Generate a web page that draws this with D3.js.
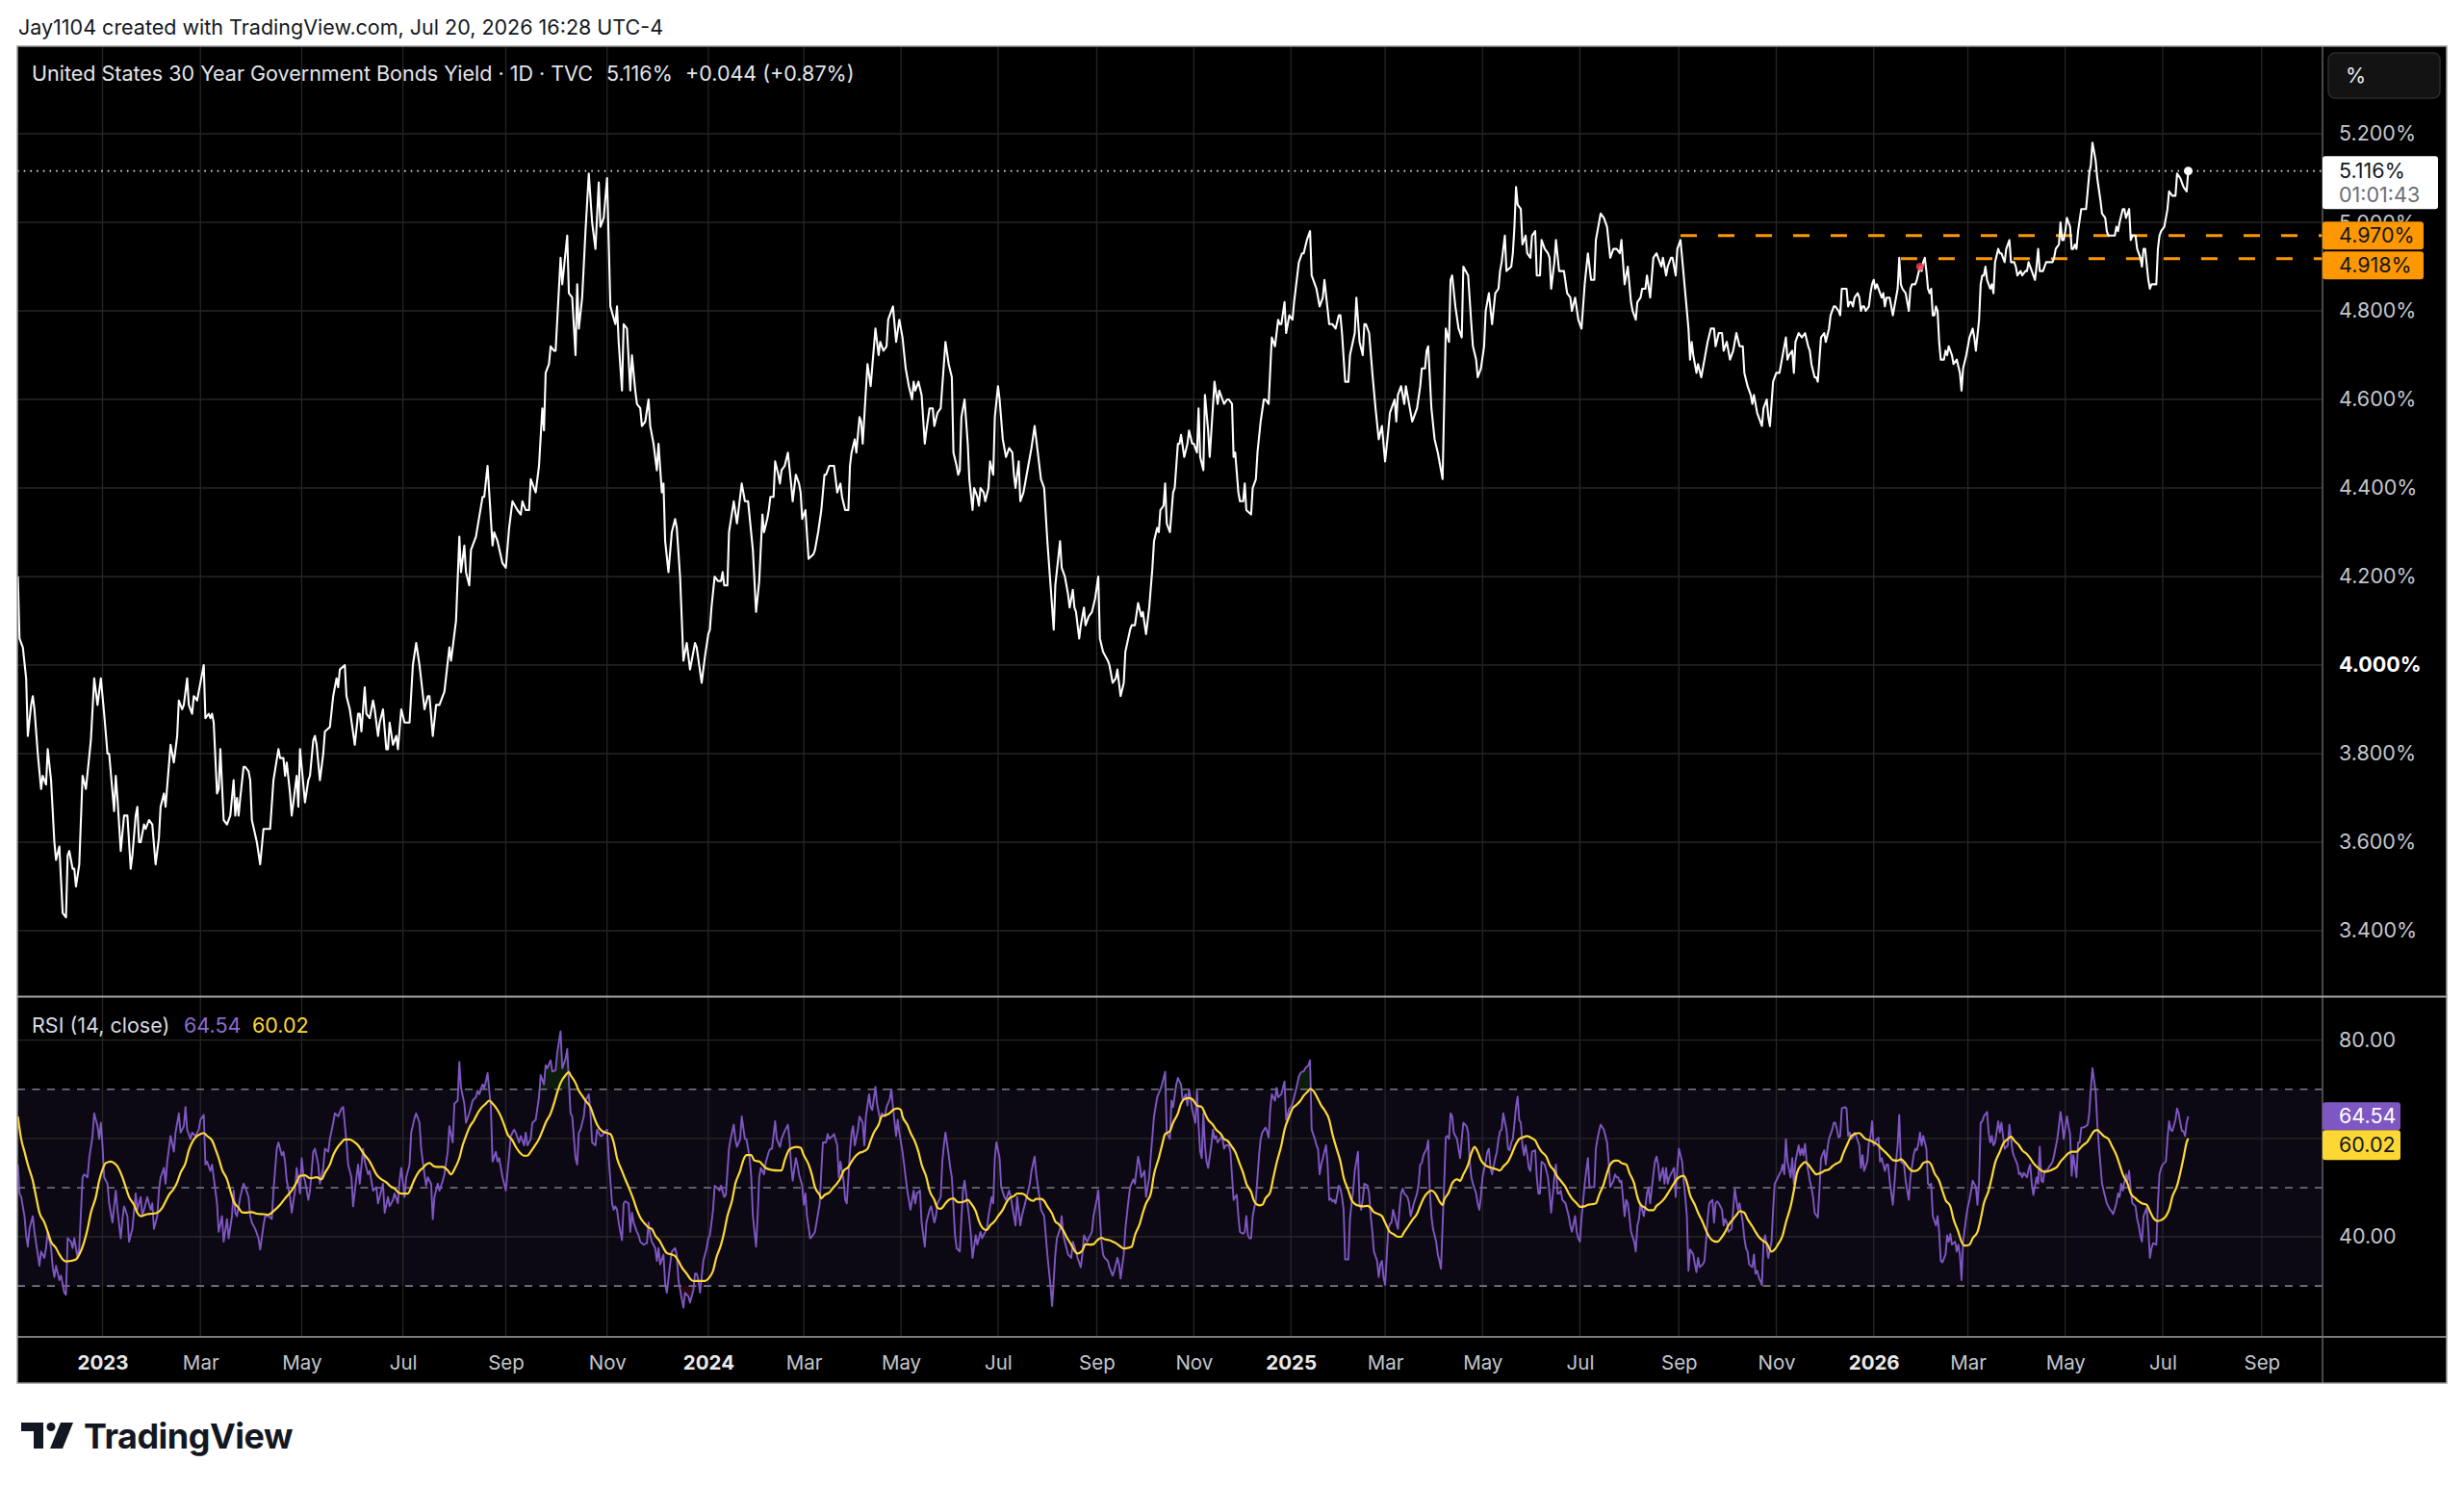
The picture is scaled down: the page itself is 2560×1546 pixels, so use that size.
<!DOCTYPE html>
<html>
<head>
<meta charset="utf-8">
<script src="https://cdn.jsdelivr.net/npm/d3@7"></script>
<style>
  html, body { margin: 0; padding: 0; background: #ffffff; }
  svg        { display: block; font-family: Inter, 'Noto Sans', sans-serif; }
</style>
</head>
<body>
<svg id="chart" width="2560" height="1546"></svg>
<script>

// Values. Days are counted from 2023-01-01.
const yearStarts   = [ 2023, 2024, 2025, 2026 ];
const priceTicks   = [ 3.4, 3.6, 3.8, 4.0, 4.2, 4.4, 4.6, 4.8, 5.0, 5.2 ];
const rsiGrid      = [ 80, 60, 40 ];
const rsiBands     = [ 70, 50, 30 ];
const rsiLabels    = [ 80, 40 ];
const alertLevels  = [ 4.970, 4.918 ];
const alertStarts  = [ 975, 1113 ];
const alertMarker  = [ 1125, 4.90 ];
const lastChange   = '+0.044 (+0.87%)';
const countdown    = '01:01:43';

// US 30Y yield, daily close (%).
const priceSeries = [
  [-51,4.20],[-50,4.06],[-48,4.04],[-46,3.97],[-45,3.84],[-43,3.91],[-42,3.93],[-41,3.90],[-39,3.80],[-37,3.72],
  [-36,3.75],[-34,3.73],[-33,3.81],[-31,3.74],[-29,3.60],[-28,3.56],[-26,3.59],[-24,3.44],[-22,3.43],[-21,3.57],
  [-20,3.58],[-18,3.54],[-17,3.54],[-16,3.50],[-14,3.55],[-12,3.75],[-10,3.72],[-7,3.83],[-5,3.97],[-3,3.91],
  [-1,3.97],[1,3.89],[3,3.80],[4,3.80],[7,3.67],[8,3.75],[9,3.70],[11,3.58],[13,3.66],[15,3.66],
  [17,3.54],[18,3.57],[20,3.66],[21,3.68],[22,3.60],[23,3.60],[25,3.64],[26,3.63],[28,3.65],[30,3.64],
  [32,3.55],[34,3.61],[35,3.68],[37,3.71],[38,3.68],[41,3.82],[43,3.78],[45,3.84],[46,3.92],[48,3.90],
  [49,3.91],[51,3.97],[52,3.91],[54,3.89],[55,3.93],[57,3.92],[59,3.96],[61,4.00],[62,3.88],[64,3.89],
  [65,3.88],[66,3.89],[67,3.87],[69,3.71],[70,3.72],[71,3.81],[73,3.65],[75,3.64],[77,3.66],[79,3.74],
  [80,3.66],[81,3.70],[82,3.66],[83,3.70],[85,3.77],[86,3.77],[88,3.76],[89,3.74],[90,3.65],[93,3.60],
  [95,3.55],[97,3.63],[99,3.63],[101,3.63],[103,3.74],[106,3.81],[107,3.79],[109,3.79],[110,3.75],[111,3.78],
  [113,3.71],[114,3.66],[116,3.72],[117,3.75],[118,3.68],[119,3.81],[122,3.69],[124,3.74],[125,3.75],[127,3.83],
  [128,3.84],[129,3.82],[131,3.74],[133,3.80],[134,3.85],[137,3.86],[139,3.93],[141,3.97],[142,3.95],[143,3.99],
  [146,4.00],[147,3.93],[149,3.90],[152,3.82],[154,3.89],[155,3.89],[156,3.85],[158,3.95],[159,3.89],[161,3.88],
  [163,3.92],[164,3.90],[166,3.84],[167,3.87],[169,3.90],[171,3.81],[172,3.81],[173,3.87],[175,3.82],[177,3.84],
  [178,3.81],[180,3.90],[182,3.87],[185,3.87],[187,4.00],[189,4.05],[191,4.00],[194,3.90],[196,3.93],[197,3.93],
  [199,3.84],[201,3.91],[203,3.91],[206,3.94],[209,4.04],[210,4.01],[213,4.10],[215,4.29],[216,4.21],[218,4.27],
  [219,4.21],[221,4.18],[222,4.26],[225,4.29],[229,4.38],[230,4.38],[232,4.45],[235,4.27],[236,4.30],[238,4.28],
  [241,4.23],[243,4.22],[245,4.31],[247,4.37],[250,4.35],[252,4.34],[253,4.37],[255,4.35],[257,4.35],[258,4.42],
  [261,4.39],[263,4.45],[265,4.58],[266,4.53],[267,4.66],[269,4.68],[270,4.72],[272,4.71],[273,4.71],[276,4.92],
  [277,4.86],[280,4.97],[281,4.84],[283,4.83],[285,4.70],[286,4.86],[287,4.76],[289,4.83],[291,4.98],[293,5.11],
  [295,5.00],[297,4.94],[299,5.09],[300,4.99],[302,5.01],[304,5.10],[306,4.81],[309,4.77],[310,4.81],[311,4.73],
  [313,4.62],[314,4.77],[316,4.76],[318,4.62],[319,4.70],[321,4.62],[322,4.59],[324,4.58],[325,4.54],[327,4.55],
  [329,4.60],[330,4.54],[332,4.50],[334,4.44],[335,4.50],[337,4.39],[338,4.41],[339,4.28],[341,4.21],[343,4.30],
  [345,4.33],[346,4.31],[348,4.20],[350,4.01],[352,4.05],[354,3.99],[357,4.05],[358,4.04],[361,3.96],[363,4.02],
  [365,4.07],[366,4.08],[367,4.13],[369,4.20],[371,4.19],[373,4.19],[374,4.21],[375,4.18],[377,4.18],[378,4.30],
  [381,4.37],[383,4.32],[384,4.35],[386,4.41],[388,4.37],[390,4.37],[393,4.26],[395,4.12],[397,4.19],[399,4.34],
  [400,4.30],[402,4.33],[403,4.35],[404,4.38],[406,4.38],[407,4.46],[409,4.43],[410,4.41],[411,4.44],[413,4.45],
  [415,4.48],[417,4.41],[418,4.37],[420,4.43],[422,4.41],[423,4.39],[424,4.33],[426,4.35],[428,4.24],[431,4.25],
  [432,4.26],[434,4.30],[436,4.35],[438,4.43],[439,4.43],[441,4.45],[442,4.45],[444,4.45],[446,4.39],[448,4.41],
  [449,4.38],[451,4.35],[453,4.35],[454,4.45],[455,4.48],[457,4.51],[458,4.48],[460,4.56],[461,4.55],[462,4.50],
  [463,4.56],[465,4.68],[467,4.63],[470,4.76],[472,4.70],[473,4.73],[475,4.71],[477,4.72],[478,4.78],[481,4.81],
  [483,4.73],[485,4.78],[487,4.74],[489,4.67],[491,4.63],[493,4.60],[494,4.64],[495,4.62],[497,4.64],[499,4.61],
  [501,4.50],[502,4.53],[504,4.58],[506,4.58],[507,4.54],[509,4.57],[511,4.58],[513,4.68],[514,4.73],[516,4.68],
  [518,4.65],[519,4.48],[521,4.45],[522,4.43],[523,4.44],[524,4.56],[526,4.60],[528,4.50],[529,4.42],[531,4.35],
  [532,4.40],[534,4.38],[535,4.36],[536,4.40],[538,4.39],[539,4.37],[541,4.40],[542,4.46],[544,4.43],[545,4.56],
  [547,4.63],[548,4.60],[550,4.51],[552,4.47],[554,4.49],[556,4.48],[557,4.43],[558,4.40],[560,4.46],[561,4.37],
  [563,4.39],[566,4.45],[568,4.49],[570,4.54],[572,4.48],[574,4.42],[576,4.40],[578,4.28],[580,4.18],[582,4.08],
  [583,4.18],[586,4.28],[587,4.22],[589,4.20],[591,4.16],[592,4.13],[594,4.17],[595,4.13],[596,4.12],[598,4.06],
  [599,4.09],[601,4.13],[602,4.09],[604,4.11],[606,4.12],[608,4.15],[610,4.20],[611,4.06],[613,4.03],[616,4.01],
  [617,4.00],[619,3.96],[621,3.97],[622,3.99],[624,3.93],[626,3.96],[627,4.03],[630,4.08],[631,4.09],[633,4.09],
  [635,4.14],[637,4.11],[638,4.12],[640,4.07],[642,4.13],[644,4.22],[645,4.28],[647,4.31],[648,4.30],[649,4.35],
  [651,4.36],[652,4.41],[653,4.32],[655,4.30],[657,4.39],[658,4.40],[660,4.50],[661,4.50],[662,4.52],[664,4.47],
  [666,4.50],[667,4.53],[669,4.50],[670,4.50],[672,4.48],[673,4.58],[674,4.47],[676,4.44],[677,4.61],[679,4.53],
  [680,4.47],[683,4.64],[685,4.59],[686,4.62],[688,4.60],[689,4.59],[691,4.60],[692,4.60],[694,4.59],[695,4.47],
  [696,4.48],[698,4.39],[699,4.37],[701,4.37],[702,4.41],[703,4.35],[706,4.34],[707,4.40],[709,4.42],[710,4.48],
  [712,4.55],[714,4.60],[715,4.60],[717,4.59],[719,4.74],[721,4.72],[723,4.78],[724,4.77],[725,4.77],[727,4.82],
  [728,4.75],[730,4.79],[732,4.78],[733,4.82],[734,4.85],[736,4.91],[738,4.93],[739,4.93],[741,4.96],[743,4.98],
  [744,4.88],[746,4.86],[747,4.85],[749,4.81],[751,4.83],[752,4.87],[755,4.77],[757,4.77],[759,4.76],[761,4.79],
  [762,4.79],[763,4.75],[765,4.64],[767,4.64],[768,4.70],[771,4.75],[772,4.83],[774,4.73],[776,4.70],[777,4.77],
  [778,4.77],[780,4.75],[782,4.66],[784,4.58],[786,4.51],[788,4.54],[790,4.46],[792,4.53],[793,4.57],[795,4.59],
  [796,4.60],[797,4.55],[798,4.61],[800,4.63],[802,4.59],[803,4.63],[805,4.59],[807,4.55],[808,4.56],[810,4.58],
  [812,4.63],[813,4.67],[815,4.67],[816,4.71],[817,4.72],[819,4.58],[821,4.51],[823,4.48],[826,4.42],[828,4.76],
  [830,4.73],[831,4.87],[832,4.88],[834,4.81],[836,4.76],[838,4.74],[839,4.90],[842,4.88],[844,4.77],[845,4.72],
  [847,4.69],[848,4.65],[850,4.67],[852,4.72],[853,4.80],[855,4.84],[857,4.77],[859,4.84],[861,4.85],[862,4.89],
  [863,4.91],[865,4.97],[866,4.89],[869,4.90],[870,4.93],[871,4.99],[872,5.08],[873,5.04],[875,5.03],[876,4.95],
  [878,4.97],[879,4.93],[881,4.92],[882,4.97],[884,4.98],[885,4.88],[887,4.88],[888,4.96],[890,4.94],[892,4.93],
  [893,4.92],[894,4.85],[896,4.91],[897,4.96],[899,4.89],[900,4.89],[902,4.89],[904,4.84],[906,4.83],[907,4.80],
  [909,4.83],[911,4.78],[913,4.76],[915,4.86],[917,4.93],[919,4.87],[921,4.87],[922,4.96],[925,5.02],[927,5.01],
  [929,4.99],[931,4.92],[933,4.94],[935,4.94],[937,4.93],[938,4.96],[940,4.86],[942,4.90],[944,4.82],[945,4.80],
  [947,4.78],[948,4.82],[950,4.83],[951,4.85],[953,4.85],[954,4.88],[956,4.83],[958,4.92],[960,4.93],[961,4.92],
  [963,4.90],[964,4.92],[966,4.88],[967,4.90],[969,4.92],[970,4.92],[972,4.88],[973,4.94],[975,4.96],[977,4.88],
  [980,4.76],[981,4.69],[982,4.73],[983,4.70],[985,4.66],[986,4.68],[988,4.65],[990,4.69],[992,4.73],[994,4.76],
  [996,4.76],[997,4.72],[999,4.75],[1001,4.75],[1002,4.71],[1004,4.73],[1006,4.69],[1008,4.71],[1010,4.75],[1012,4.72],
  [1014,4.72],[1015,4.66],[1017,4.63],[1019,4.61],[1020,4.59],[1021,4.61],[1023,4.57],[1026,4.54],[1027,4.58],[1029,4.60],
  [1030,4.56],[1031,4.54],[1033,4.64],[1035,4.66],[1037,4.66],[1038,4.68],[1041,4.74],[1042,4.69],[1043,4.70],[1045,4.71],
  [1046,4.66],[1047,4.73],[1049,4.75],[1051,4.74],[1053,4.75],[1055,4.72],[1056,4.71],[1057,4.68],[1059,4.65],[1060,4.65],
  [1061,4.64],[1062,4.69],[1063,4.74],[1065,4.75],[1066,4.73],[1068,4.76],[1069,4.79],[1071,4.81],[1072,4.81],[1074,4.80],
  [1075,4.79],[1076,4.85],[1078,4.85],[1079,4.85],[1080,4.81],[1081,4.82],[1082,4.82],[1083,4.81],[1084,4.83],[1086,4.84],
  [1087,4.83],[1088,4.80],[1089,4.81],[1090,4.81],[1091,4.80],[1093,4.81],[1094,4.84],[1095,4.86],[1096,4.87],[1097,4.85],
  [1098,4.86],[1100,4.84],[1101,4.83],[1102,4.84],[1103,4.81],[1104,4.83],[1105,4.83],[1106,4.83],[1108,4.79],[1109,4.81],
  [1111,4.85],[1112,4.92],[1113,4.86],[1114,4.85],[1116,4.84],[1117,4.82],[1118,4.80],[1119,4.85],[1120,4.86],[1122,4.86],
  [1123,4.87],[1125,4.90],[1126,4.89],[1127,4.91],[1128,4.92],[1129,4.89],[1130,4.85],[1131,4.84],[1132,4.85],[1133,4.79],
  [1134,4.79],[1135,4.81],[1136,4.80],[1137,4.73],[1138,4.69],[1140,4.69],[1141,4.71],[1142,4.70],[1143,4.72],[1145,4.70],
  [1146,4.68],[1148,4.69],[1150,4.66],[1151,4.62],[1152,4.67],[1154,4.70],[1155,4.72],[1156,4.74],[1158,4.76],[1159,4.74],
  [1160,4.71],[1162,4.78],[1163,4.86],[1164,4.88],[1165,4.88],[1166,4.90],[1167,4.87],[1169,4.85],[1170,4.86],[1171,4.84],
  [1172,4.91],[1174,4.94],[1175,4.93],[1176,4.93],[1177,4.92],[1178,4.91],[1179,4.94],[1181,4.96],[1182,4.91],[1184,4.91],
  [1185,4.90],[1186,4.88],[1188,4.89],[1189,4.88],[1191,4.89],[1192,4.89],[1193,4.91],[1195,4.89],[1196,4.88],[1197,4.87],
  [1198,4.90],[1199,4.94],[1200,4.89],[1202,4.89],[1203,4.90],[1204,4.91],[1206,4.91],[1208,4.91],[1209,4.92],[1210,4.94],
  [1212,4.95],[1213,5.00],[1214,4.96],[1215,4.96],[1216,4.98],[1217,5.01],[1218,5.00],[1219,4.99],[1220,4.94],[1221,4.94],
  [1222,4.95],[1223,4.94],[1224,4.98],[1226,5.03],[1227,5.03],[1229,5.03],[1230,5.07],[1231,5.11],[1232,5.13],[1233,5.18],
  [1235,5.14],[1236,5.10],[1238,5.05],[1239,5.02],[1241,5.01],[1242,4.98],[1243,4.97],[1245,4.97],[1246,4.97],[1247,4.97],
  [1248,4.99],[1249,4.98],[1250,5.00],[1252,5.03],[1253,5.03],[1254,5.01],[1255,5.02],[1256,5.03],[1257,4.96],[1258,4.97],
  [1260,4.97],[1261,4.94],[1263,4.92],[1264,4.90],[1265,4.94],[1266,4.94],[1268,4.87],[1269,4.85],[1270,4.86],[1272,4.86],
  [1273,4.86],[1274,4.94],[1275,4.97],[1276,4.98],[1278,4.99],[1280,5.03],[1281,5.07],[1283,5.06],[1285,5.06],[1286,5.11],
  [1288,5.10],[1289,5.09],[1290,5.08],[1292,5.07],[1293,5.116]
];

// RSI (14, close).
const rsiSeries = [
  [-51,54.7],[-50,48.8],[-49,48.1],[-47,44.2],[-46,40.3],[-45,38.0],[-44,41.6],[-42,44.2],[-41,41.0],[-39,36.4],
  [-38,34.1],[-37,37.0],[-35,35.7],[-34,37.7],[-33,41.0],[-31,37.7],[-30,33.8],[-29,31.8],[-28,34.1],[-26,31.2],
  [-25,32.1],[-23,28.6],[-22,28.2],[-21,39.7],[-19,39.0],[-18,37.7],[-17,39.7],[-15,35.7],[-14,37.7],[-12,52.1],
  [-11,52.7],[-9,52.1],[-8,56.0],[-6,60.5],[-5,65.1],[-3,62.5],[-2,59.9],[-1,63.2],[0,58.6],[1,52.1],
  [3,50.8],[4,46.8],[6,42.9],[8,49.4],[9,45.5],[11,39.7],[12,43.6],[13,46.2],[15,44.2],[16,39.0],
  [18,41.6],[20,48.8],[21,45.5],[23,48.1],[24,44.2],[26,46.8],[27,48.1],[29,45.5],[30,46.8],[31,41.6],
  [33,44.2],[34,49.4],[35,52.1],[37,54.0],[38,50.8],[39,55.3],[41,60.5],[43,57.3],[44,61.2],[46,65.1],
  [47,61.2],[49,62.5],[50,66.4],[51,61.8],[53,59.9],[54,61.2],[56,60.5],[58,61.8],[59,63.8],[61,64.8],
  [62,54.7],[63,55.3],[65,53.4],[66,54.7],[67,52.1],[69,46.8],[70,41.0],[72,44.2],[73,39.0],[75,43.6],
  [76,39.7],[78,44.2],[79,49.4],[80,44.9],[81,44.2],[83,48.1],[85,50.8],[86,50.1],[88,48.1],[89,44.2],
  [90,42.9],[92,41.6],[94,39.7],[95,37.4],[97,42.3],[98,44.2],[100,44.2],[102,43.6],[103,49.4],[105,57.9],
  [106,59.2],[108,56.6],[109,57.3],[110,55.3],[111,51.4],[113,48.1],[114,44.9],[116,49.4],[117,54.0],[119,48.8],
  [120,56.0],[121,52.7],[122,51.4],[124,47.5],[125,49.4],[127,57.3],[128,57.9],[130,54.7],[131,50.8],[133,54.0],
  [134,57.9],[136,57.3],[137,59.9],[139,63.2],[140,65.1],[142,64.5],[144,66.1],[145,66.4],[147,59.2],[148,54.7],
  [150,52.1],[151,46.2],[153,52.1],[154,54.7],[155,50.8],[157,57.9],[158,55.3],[160,52.7],[161,53.4],[163,49.4],
  [165,50.1],[166,46.8],[167,48.1],[169,50.8],[170,44.9],[172,48.1],[173,46.2],[175,47.5],[176,48.8],[178,46.8],
  [179,51.4],[180,54.0],[182,48.1],[183,52.1],[185,54.7],[186,61.2],[188,64.1],[189,65.1],[191,63.2],[192,57.9],
  [194,52.7],[195,50.4],[196,52.1],[198,50.8],[199,43.6],[200,48.1],[202,50.8],[203,49.4],[205,51.4],[206,52.7],
  [208,57.3],[209,62.5],[211,59.2],[212,67.1],[214,67.7],[215,75.6],[216,70.3],[218,67.1],[219,63.2],[221,65.1],
  [222,66.4],[223,67.7],[225,68.4],[226,69.7],[227,69.0],[229,71.0],[230,70.3],[231,71.6],[232,73.3],[234,66.4],
  [235,55.3],[237,57.3],[238,55.3],[239,56.0],[241,52.1],[242,50.8],[243,49.4],[245,56.6],[246,60.5],[248,61.8],
  [249,61.2],[251,59.2],[252,60.5],[254,58.6],[255,61.2],[256,58.6],[258,59.9],[259,63.2],[261,63.8],[263,68.4],
  [264,72.9],[266,71.0],[267,74.9],[268,74.3],[270,75.9],[271,73.6],[273,73.9],[274,77.5],[276,81.8],[277,74.3],
  [279,76.2],[280,78.2],[282,65.1],[283,64.5],[285,56.0],[286,54.7],[287,61.2],[288,61.8],[290,64.5],[291,67.7],
  [293,69.0],[294,65.1],[295,59.2],[297,58.6],[298,61.8],[300,60.5],[301,60.5],[302,61.2],[304,61.8],[305,56.0],
  [307,46.8],[308,45.5],[309,46.2],[310,45.5],[311,42.9],[313,39.3],[314,46.8],[315,47.2],[317,46.8],[318,41.0],
  [319,44.9],[320,42.9],[322,41.0],[323,40.3],[324,39.0],[326,38.4],[328,38.7],[329,42.9],[330,40.3],[331,39.0],
  [333,37.7],[334,35.1],[335,37.7],[336,34.4],[338,36.4],[339,30.5],[340,28.6],[342,34.4],[343,37.0],[345,37.7],
  [346,36.4],[347,31.2],[349,27.3],[350,25.6],[351,28.6],[353,27.9],[354,26.6],[356,29.2],[357,32.5],[358,32.5],
  [359,31.2],[360,28.6],[362,35.1],[364,37.7],[365,39.7],[366,40.3],[368,45.5],[369,50.4],[371,49.8],[372,49.4],
  [373,50.4],[375,48.1],[376,48.5],[378,57.9],[379,59.9],[381,62.8],[382,59.9],[383,58.3],[385,59.9],[386,64.5],
  [388,59.9],[389,59.9],[391,56.0],[392,52.1],[393,44.2],[395,38.0],[396,44.2],[397,52.1],[398,54.0],[400,52.7],
  [401,55.0],[403,57.3],[404,57.9],[405,57.9],[407,63.5],[408,59.9],[410,58.3],[411,59.9],[413,61.5],[415,62.8],
  [416,59.9],[417,54.7],[418,51.4],[420,56.0],[421,54.7],[422,52.7],[424,50.4],[425,46.5],[426,48.8],[427,44.2],
  [429,39.7],[430,40.0],[432,41.0],[433,42.9],[435,46.8],[436,53.4],[437,59.2],[439,59.2],[440,60.9],[441,59.9],
  [443,60.5],[444,60.9],[446,58.6],[447,52.1],[448,55.3],[450,51.4],[451,47.5],[452,46.8],[454,57.3],[455,61.2],
  [456,62.5],[457,58.6],[459,61.8],[460,64.5],[462,63.2],[463,58.6],[464,64.5],[466,69.0],[467,66.4],[468,65.8],
  [470,70.5],[471,67.1],[473,63.8],[474,65.1],[476,64.5],[477,66.4],[479,68.0],[480,70.0],[481,66.4],[483,60.5],
  [484,63.8],[485,61.2],[487,57.3],[488,54.7],[490,49.4],[491,47.5],[492,45.5],[494,49.4],[495,46.8],[496,48.8],
  [498,49.4],[499,42.9],[501,38.0],[502,42.9],[504,45.5],[505,46.2],[507,42.9],[508,44.2],[509,46.8],[511,48.1],
  [512,55.3],[513,58.6],[514,61.2],[516,56.6],[517,54.0],[518,52.1],[520,40.3],[521,37.7],[523,37.0],[524,43.6],
  [525,49.4],[526,51.4],[528,46.2],[529,43.6],[530,40.3],[531,35.7],[533,40.3],[534,38.4],[536,41.0],[537,39.7],
  [539,41.0],[540,41.6],[541,44.2],[543,48.1],[544,46.8],[545,56.0],[546,59.2],[548,56.0],[549,50.1],[551,48.1],
  [552,47.5],[554,49.4],[555,48.1],[557,44.2],[558,42.3],[559,48.1],[561,42.3],[562,44.2],[564,46.8],[566,49.4],
  [567,50.8],[568,53.4],[570,56.3],[571,52.7],[573,48.1],[574,45.5],[576,44.2],[577,40.3],[578,36.4],[580,29.9],
  [581,25.9],[583,36.4],[584,39.7],[586,41.6],[587,44.2],[588,40.3],[590,37.7],[591,36.4],[593,35.7],[594,39.0],
  [596,37.0],[597,35.7],[599,33.8],[600,36.4],[601,40.3],[603,39.0],[604,39.7],[606,41.0],[607,44.2],[609,47.5],
  [610,49.4],[612,39.0],[613,36.4],[614,35.7],[616,35.1],[617,33.8],[619,32.1],[620,33.1],[622,35.7],[623,34.4],
  [624,31.5],[626,36.4],[627,41.6],[629,47.5],[630,50.1],[632,51.7],[633,50.8],[635,56.3],[636,54.7],[637,52.1],
  [639,53.4],[640,48.1],[642,52.1],[643,56.6],[645,64.5],[646,66.4],[647,68.4],[649,70.0],[650,71.0],[652,73.6],
  [653,61.2],[655,59.9],[656,67.7],[657,66.4],[659,71.0],[660,72.3],[662,71.0],[663,67.7],[665,69.0],[666,66.7],
  [667,70.0],[669,65.8],[671,63.2],[672,69.7],[673,62.5],[674,57.3],[675,56.0],[676,65.1],[677,58.6],[678,55.3],
  [679,54.0],[681,58.6],[682,61.8],[683,59.9],[684,60.5],[685,59.2],[687,60.2],[688,59.9],[689,57.9],[690,58.6],
  [692,58.6],[693,57.3],[695,47.5],[696,48.1],[697,48.5],[698,44.2],[699,41.0],[701,40.6],[702,41.0],[703,44.2],
  [704,40.3],[705,39.7],[706,39.7],[707,44.2],[709,47.5],[710,52.1],[711,56.6],[712,59.9],[713,61.2],[715,62.2],
  [716,61.5],[717,60.2],[718,65.8],[719,69.0],[721,67.7],[722,70.3],[723,68.4],[724,68.7],[725,69.0],[726,70.3],
  [727,71.6],[728,63.8],[730,66.1],[731,66.4],[732,67.1],[733,68.4],[734,69.7],[736,72.6],[737,73.3],[738,73.6],
  [739,73.6],[740,74.3],[742,74.9],[743,75.9],[744,61.8],[746,59.9],[747,58.6],[748,57.9],[749,52.7],[750,54.7],
  [752,57.3],[753,58.6],[754,54.7],[755,47.5],[756,47.8],[757,47.2],[758,47.5],[759,46.8],[761,50.4],[762,49.8],
  [763,48.1],[764,45.5],[765,35.4],[767,35.4],[768,43.6],[769,46.8],[770,49.4],[771,53.4],[773,57.3],[774,46.8],
  [775,45.5],[776,47.5],[777,50.8],[779,50.4],[780,48.8],[781,44.2],[782,41.0],[783,37.0],[785,35.1],[786,31.8],
  [787,34.4],[788,35.1],[789,31.8],[790,30.2],[792,41.6],[793,42.6],[794,42.9],[795,45.5],[796,44.2],[798,41.6],
  [799,45.5],[800,48.8],[801,49.8],[802,48.8],[804,48.1],[805,46.8],[806,44.2],[807,45.5],[808,46.8],[810,48.8],
  [811,50.8],[812,54.7],[813,55.0],[814,56.6],[816,57.9],[817,59.6],[818,49.4],[819,44.2],[820,41.6],[822,39.0],
  [823,36.4],[824,35.1],[825,33.5],[827,50.8],[828,60.2],[829,60.5],[830,59.9],[831,65.1],[832,64.5],[833,61.2],
  [835,59.9],[836,57.9],[837,56.0],[838,59.9],[839,63.2],[841,62.5],[842,61.2],[843,55.3],[844,52.1],[845,50.8],
  [847,48.8],[848,46.8],[849,45.5],[850,48.1],[851,52.1],[853,55.3],[854,57.3],[855,57.9],[856,54.0],[857,52.7],
  [859,56.0],[860,57.3],[861,59.9],[862,61.5],[863,61.8],[864,65.1],[866,61.8],[867,57.9],[868,57.6],[869,59.2],
  [870,59.9],[872,66.4],[873,68.5],[874,63.8],[875,63.2],[876,58.6],[877,56.6],[878,58.6],[879,56.6],[880,54.0],
  [881,53.4],[882,57.3],[884,57.6],[885,52.1],[886,48.8],[887,48.8],[888,55.3],[890,54.7],[891,53.4],[892,52.1],
  [893,48.8],[894,44.9],[896,52.1],[897,54.7],[898,48.8],[899,48.8],[900,49.4],[901,47.5],[903,46.8],[904,45.5],
  [905,44.2],[906,42.3],[907,41.0],[909,44.2],[910,41.0],[911,39.7],[912,39.0],[913,43.6],[915,50.8],[916,53.4],
  [917,56.0],[918,50.1],[919,50.1],[921,50.1],[922,57.9],[923,59.9],[924,61.5],[925,62.8],[927,61.8],[928,60.5],
  [929,59.2],[930,55.3],[931,50.1],[933,51.4],[934,52.7],[935,52.1],[936,52.1],[937,51.1],[938,51.4],[940,44.2],
  [941,47.5],[942,46.8],[943,44.2],[944,41.0],[946,39.0],[947,37.0],[948,42.3],[949,43.6],[950,46.8],[952,44.2],
  [953,46.2],[954,48.8],[955,50.1],[956,46.8],[958,52.7],[959,55.3],[960,56.3],[961,54.7],[962,51.4],[964,54.0],
  [965,50.8],[966,54.0],[967,50.8],[968,52.1],[970,53.4],[971,54.0],[972,48.1],[973,54.0],[974,57.9],[976,55.3],
  [977,51.4],[978,48.1],[979,44.2],[980,33.1],[981,37.4],[983,36.4],[984,34.4],[985,32.8],[986,35.7],[987,33.8],
  [989,34.4],[990,35.1],[991,39.0],[992,43.6],[993,46.8],[995,47.5],[996,42.9],[997,46.8],[998,47.2],[999,46.8],
  [1001,45.5],[1002,42.3],[1003,43.6],[1004,42.9],[1005,41.0],[1007,41.6],[1008,45.5],[1009,49.8],[1010,47.5],[1011,45.5],
  [1012,46.8],[1014,42.9],[1015,39.7],[1016,37.7],[1017,37.0],[1018,34.4],[1020,33.8],[1021,36.4],[1022,32.5],[1023,33.1],
  [1024,31.8],[1026,30.2],[1027,39.0],[1028,40.3],[1029,38.0],[1030,35.7],[1032,39.0],[1033,45.5],[1034,50.8],[1035,51.4],
  [1036,52.1],[1038,53.4],[1039,54.7],[1040,52.7],[1041,59.9],[1042,55.3],[1044,52.1],[1045,56.0],[1046,50.8],[1047,55.3],
  [1049,58.6],[1050,56.6],[1051,57.9],[1052,56.6],[1053,58.9],[1054,55.3],[1056,51.4],[1057,50.1],[1058,48.1],[1059,44.9],
  [1061,43.9],[1062,49.4],[1063,56.0],[1065,57.6],[1066,54.7],[1067,57.9],[1068,59.9],[1070,61.8],[1071,63.2],[1072,63.2],
  [1073,61.8],[1074,60.2],[1075,60.5],[1076,66.1],[1078,66.4],[1079,66.1],[1080,60.5],[1081,61.2],[1082,59.9],[1083,60.2],
  [1084,61.2],[1085,60.5],[1087,58.6],[1088,54.0],[1089,56.6],[1090,53.4],[1092,55.3],[1093,59.2],[1094,60.5],[1095,63.5],
  [1096,58.6],[1098,59.9],[1099,60.2],[1100,55.3],[1101,56.0],[1103,53.4],[1104,54.7],[1105,54.7],[1106,51.4],[1108,46.5],
  [1109,50.8],[1110,55.3],[1111,58.6],[1112,64.8],[1113,55.3],[1115,54.7],[1116,51.4],[1117,49.4],[1118,47.5],[1119,52.1],
  [1121,56.6],[1122,57.9],[1123,57.6],[1124,58.9],[1125,61.2],[1126,58.6],[1127,60.5],[1129,57.9],[1130,50.8],[1131,50.4],
  [1132,50.8],[1133,44.2],[1135,42.3],[1136,44.2],[1137,41.0],[1138,35.1],[1139,34.8],[1141,36.4],[1142,40.3],[1143,39.0],
  [1144,40.6],[1145,38.4],[1147,39.0],[1148,37.0],[1149,38.4],[1150,36.4],[1151,31.2],[1152,39.0],[1154,44.2],[1155,46.2],
  [1156,47.5],[1157,49.4],[1158,51.4],[1160,50.1],[1161,46.5],[1162,51.4],[1163,63.2],[1164,63.5],[1165,64.5],[1167,65.4],
  [1168,61.2],[1169,59.2],[1170,60.5],[1171,58.6],[1172,59.2],[1174,63.5],[1175,61.2],[1176,63.2],[1177,60.5],[1178,57.9],
  [1180,58.6],[1181,62.8],[1182,59.9],[1183,57.3],[1184,56.3],[1186,54.7],[1187,52.7],[1188,53.0],[1189,52.1],[1190,53.0],
  [1192,52.1],[1193,53.7],[1194,54.7],[1195,50.8],[1196,48.5],[1198,52.1],[1199,50.8],[1200,58.3],[1201,51.4],[1202,51.1],
  [1203,53.4],[1205,53.7],[1206,54.3],[1207,54.7],[1208,55.3],[1209,56.6],[1211,59.9],[1212,62.5],[1213,65.4],[1214,63.2],
  [1215,59.9],[1217,64.5],[1218,62.5],[1219,60.9],[1220,52.4],[1221,56.6],[1223,52.1],[1224,59.2],[1225,59.2],[1226,62.2],
  [1227,62.2],[1229,62.5],[1230,62.8],[1231,65.1],[1232,70.3],[1233,74.3],[1235,69.7],[1236,63.2],[1237,58.6],[1238,54.7],
  [1239,50.8],[1240,49.4],[1242,46.8],[1243,46.2],[1244,45.5],[1245,45.2],[1246,44.6],[1248,46.8],[1249,48.8],[1250,48.1],
  [1251,50.8],[1252,49.4],[1254,52.7],[1255,51.4],[1256,53.4],[1257,49.4],[1258,46.8],[1260,46.2],[1261,43.6],[1262,42.3],
  [1263,40.3],[1264,39.0],[1265,44.2],[1267,45.9],[1268,41.6],[1269,35.7],[1270,37.7],[1271,38.7],[1273,38.4],[1274,46.8],
  [1275,52.7],[1276,54.0],[1277,54.7],[1279,55.3],[1280,59.9],[1281,63.5],[1282,61.8],[1283,61.5],[1285,63.8],[1286,66.1],
  [1287,65.1],[1288,63.2],[1289,61.5],[1290,61.5],[1291,60.5],[1292,63.2],[1293,64.54]
];

// RSI-based moving average (yellow).
const rsiMaSeries = [
  [-51,64.5],[-49,59.9],[-47,57.3],[-45,54.7],[-42,51.4],[-40,48.1],[-38,44.9],[-35,42.9],[-33,41.0],[-31,39.0],
  [-28,37.7],[-26,36.4],[-24,35.4],[-22,35.0],[-19,35.1],[-16,35.4],[-14,36.4],[-11,39.0],[-9,41.6],[-7,44.9],
  [-4,48.1],[-2,51.4],[0,53.7],[2,55.0],[5,55.3],[7,55.0],[9,54.3],[12,52.1],[14,50.1],[16,48.1],
  [19,46.5],[21,44.9],[23,44.2],[27,44.6],[30,44.7],[33,44.9],[36,45.9],[38,47.2],[40,48.5],[43,49.8],
  [45,51.1],[47,53.0],[50,55.0],[52,57.6],[54,59.2],[56,60.2],[59,60.9],[61,61.1],[63,60.5],[66,59.6],
  [68,57.9],[70,56.0],[72,53.7],[75,51.7],[77,49.4],[79,47.2],[82,45.9],[84,45.0],[86,44.9],[90,45.0],
  [93,44.7],[97,44.6],[100,44.5],[103,45.2],[107,46.5],[110,47.8],[114,49.4],[117,51.1],[119,52.4],[122,52.5],
  [125,51.9],[129,52.1],[132,51.7],[134,53.0],[137,54.7],[139,56.6],[141,57.9],[144,59.2],[146,59.8],[149,59.8],
  [152,59.2],[154,58.6],[156,57.6],[158,56.6],[161,55.3],[163,54.0],[165,52.7],[168,51.7],[171,51.1],[173,50.4],
  [176,49.8],[178,49.1],[180,48.8],[184,48.8],[186,50.1],[188,51.7],[191,53.4],[193,54.0],[195,54.7],[197,55.0],
  [200,54.3],[203,54.2],[205,54.2],[208,53.5],[210,52.7],[212,53.7],[215,56.0],[217,58.6],[219,60.5],[221,62.2],
  [224,63.8],[226,65.1],[228,66.1],[231,67.1],[233,67.7],[235,67.1],[238,65.8],[240,64.5],[242,62.8],[244,60.9],
  [247,59.6],[249,58.3],[251,57.3],[254,56.5],[256,56.5],[258,57.3],[260,58.3],[263,59.9],[265,61.5],[267,63.2],
  [270,65.1],[272,67.1],[274,69.4],[276,71.3],[279,72.9],[281,73.5],[282,72.9],[285,71.3],[287,69.7],[289,68.7],
  [291,67.7],[294,66.4],[296,64.5],[298,62.8],[301,61.5],[303,61.2],[306,60.9],[308,59.2],[310,56.0],[313,53.4],
  [315,51.7],[317,50.1],[320,47.5],[322,45.5],[324,43.9],[327,42.6],[329,41.9],[331,41.6],[333,40.3],[336,39.0],
  [338,37.7],[340,36.7],[343,36.4],[345,36.1],[347,35.1],[349,33.8],[352,32.5],[354,31.5],[356,31.0],[360,31.0],
  [363,31.0],[365,31.5],[368,33.1],[370,35.7],[373,38.4],[375,41.0],[377,44.2],[380,47.5],[382,50.8],[385,53.4],
  [387,55.6],[389,56.6],[392,56.6],[394,55.5],[397,55.3],[399,54.7],[401,54.0],[405,53.6],[409,53.5],[411,53.5],
  [413,55.6],[416,57.8],[418,58.1],[420,58.3],[423,58.1],[425,56.6],[428,54.7],[430,52.7],[432,50.1],[435,48.5],
  [436,47.8],[438,48.5],[441,49.0],[443,49.8],[446,50.9],[448,51.9],[450,53.4],[453,54.2],[455,55.3],[458,56.6],
  [460,57.1],[462,57.3],[465,57.9],[467,59.6],[469,61.2],[472,62.8],[474,64.5],[477,64.8],[479,65.2],[481,65.8],
  [484,66.1],[486,65.8],[487,64.5],[490,62.8],[492,61.2],[495,59.2],[497,57.3],[499,54.7],[502,52.1],[504,49.4],
  [507,47.5],[509,45.9],[511,45.7],[514,46.8],[516,47.5],[519,47.8],[521,47.2],[523,47.0],[526,47.2],[528,47.5],
  [530,46.8],[533,45.2],[535,43.2],[538,41.6],[540,41.4],[542,42.3],[545,43.2],[547,44.2],[550,45.5],[552,46.8],
  [554,47.8],[557,48.3],[559,48.8],[562,48.8],[564,48.5],[566,47.8],[569,47.3],[571,47.7],[574,47.7],[576,47.3],
  [578,46.2],[581,44.7],[583,43.1],[585,42.6],[588,41.3],[590,40.0],[593,38.4],[595,37.2],[597,36.6],[600,37.2],
  [602,38.5],[605,38.4],[607,38.5],[609,39.2],[612,39.8],[614,39.5],[617,39.3],[619,39.0],[621,38.7],[624,38.0],
  [626,37.6],[628,37.7],[631,38.0],[633,40.3],[636,42.6],[638,44.9],[640,46.8],[643,48.8],[645,52.7],[648,56.0],
  [650,58.6],[652,60.9],[655,61.5],[657,63.2],[660,65.1],[662,67.1],[664,68.0],[667,68.2],[669,68.0],[672,66.7],
  [675,66.4],[677,65.1],[679,63.8],[682,62.8],[684,61.8],[687,60.9],[689,59.9],[691,59.6],[694,58.3],[696,57.3],
  [699,54.7],[701,53.0],[703,50.8],[706,49.1],[708,47.2],[711,46.4],[713,46.5],[715,47.8],[718,49.1],[720,52.1],
  [722,55.0],[725,58.6],[727,61.8],[730,64.5],[732,66.1],[734,66.7],[737,67.7],[739,68.7],[742,69.7],[743,70.1],
  [745,69.7],[748,68.0],[750,66.7],[752,65.8],[755,63.8],[757,60.9],[759,58.6],[762,55.3],[764,52.1],[767,49.4],
  [769,47.5],[771,46.7],[774,46.3],[776,46.2],[779,46.3],[781,45.9],[783,45.0],[786,44.6],[788,44.2],[790,42.9],
  [793,41.0],[795,40.6],[798,40.0],[800,40.0],[802,41.0],[805,42.4],[807,43.4],[810,44.7],[812,46.3],[814,47.8],
  [817,49.1],[819,49.4],[822,48.5],[824,47.2],[826,46.5],[827,47.5],[830,49.1],[832,50.9],[835,51.7],[837,51.4],
  [839,52.7],[842,54.7],[844,57.0],[846,58.3],[848,57.3],[850,55.6],[853,54.5],[855,54.2],[857,54.0],[860,53.7],
  [862,53.5],[864,54.3],[867,55.3],[869,56.6],[872,58.9],[874,59.9],[876,60.2],[879,60.5],[881,60.2],[884,59.6],
  [886,58.3],[888,57.3],[891,56.3],[893,54.7],[896,53.4],[898,52.2],[900,51.4],[903,50.1],[905,48.8],[907,47.8],
  [910,46.8],[912,46.1],[915,46.2],[917,46.5],[919,46.6],[922,46.8],[924,48.5],[927,50.8],[929,53.0],[931,54.7],
  [934,55.5],[936,55.5],[938,55.0],[941,54.7],[943,53.0],[946,50.8],[948,48.1],[950,46.5],[953,45.9],[955,45.4],
  [958,45.4],[960,46.3],[962,46.8],[965,47.8],[967,48.8],[970,50.4],[972,51.4],[974,52.1],[977,52.4],[979,51.1],
  [981,48.5],[984,46.5],[986,44.9],[989,42.9],[991,41.3],[993,40.0],[996,39.1],[998,39.0],[1001,40.0],[1003,41.0],
  [1005,42.3],[1008,43.6],[1010,44.4],[1012,45.2],[1015,44.9],[1017,43.6],[1020,42.1],[1022,41.0],[1024,40.0],[1027,39.1],
  [1029,38.7],[1032,37.0],[1034,37.4],[1036,38.4],[1039,40.3],[1041,42.9],[1044,46.2],[1046,49.4],[1048,53.0],[1051,54.7],
  [1053,55.2],[1056,54.3],[1058,53.4],[1060,52.7],[1063,53.0],[1065,53.4],[1068,53.7],[1070,54.3],[1072,54.8],[1075,55.3],
  [1077,57.0],[1080,59.2],[1082,60.5],[1084,60.9],[1087,61.1],[1089,60.5],[1091,59.9],[1094,59.6],[1096,59.2],[1099,58.6],
  [1101,57.9],[1103,57.3],[1106,56.3],[1108,55.6],[1111,55.5],[1113,55.8],[1115,55.3],[1118,54.0],[1120,53.4],[1122,53.4],
  [1125,54.0],[1127,55.0],[1130,55.3],[1132,54.7],[1134,53.0],[1137,51.4],[1139,49.4],[1141,47.5],[1144,46.2],[1146,43.6],
  [1149,41.0],[1151,39.0],[1153,38.2],[1156,38.4],[1158,39.7],[1161,41.0],[1163,43.6],[1165,46.8],[1168,49.4],[1170,52.1],
  [1172,55.0],[1175,57.3],[1177,58.9],[1180,59.9],[1182,60.4],[1184,59.6],[1187,58.6],[1189,57.6],[1192,56.8],[1194,56.0],
  [1196,55.0],[1199,54.0],[1201,53.5],[1203,53.2],[1206,53.4],[1208,53.7],[1211,54.3],[1213,55.3],[1215,56.0],[1218,57.0],
  [1220,57.3],[1223,57.3],[1225,57.9],[1227,58.6],[1230,59.4],[1232,60.5],[1234,61.5],[1236,61.7],[1238,61.2],[1240,60.5],
  [1243,59.9],[1245,58.6],[1248,56.6],[1250,54.7],[1252,52.7],[1255,50.8],[1257,48.8],[1260,47.8],[1262,47.2],[1264,46.8],
  [1267,46.5],[1269,45.2],[1271,43.9],[1274,43.2],[1276,43.4],[1279,44.2],[1281,45.5],[1283,48.1],[1286,50.4],[1288,53.0],
  [1290,56.0],[1292,59.2],[1293,60.02]
];


// Builds the TradingView-like snapshot: price pane, RSI pane, axes and labels.
class YieldChart {

  constructor ( ) {
    this.frame   = { left: 18, right: 2542, top: 48, bottom: 1437 };
    this.axisX   = 2413;
    this.pricePn = { top: 48,   bottom: 1035 };
    this.rsiPn   = { top: 1036, bottom: 1389 };
    this.base    = new Date( 2023, 0, 1 );
    this.font    = 'Inter, "Noto Sans", sans-serif';
    this.text    = 21.5;
    this.svg     = d3.select( '#chart' );
    this.and     = this;
  }

  day ( d ) { return d3.timeDay.offset( this.base, d ); }

  // Piecewise time scale (TradingView spaces bars, not calendar days).
  setScales ( ) {
    this.x = d3.scaleTime( )
      .domain( yearStarts.map( y => new Date( y, 0, 1 ) ) )
      .range( [ 106.5, 735.9, 1341.2, 1946.7 ] );
    this.y  = d3.scaleLinear( ).domain( [ 3.4, 5.2 ] ).range( [ 967, 139 ] );
    this.yR = d3.scaleLinear( ).domain( [ 40, 80 ] ).range( [ 1285, 1080.7 ] );
    this.months = d3.timeMonth.every( 2 ).range( new Date( 2023, 0, 1 ), new Date( 2026, 9, 1 ) );
    return this;
  }

  makeCanvas ( ) {
    const f = this.frame;
    this.svg.append( 'text' )
      .attr( 'x', 19 ).attr( 'y', 36 )
      .attr( 'font-size', this.text ).attr( 'fill', '#131722' )
      .text( 'Jay1104 created with TradingView.com, Jul 20, 2026 16:28 UTC-4' );

    this.svg.append( 'rect' )
      .attr( 'x', f.left ).attr( 'y', f.top )
      .attr( 'width', f.right - f.left ).attr( 'height', f.bottom - f.top )
      .attr( 'fill', '#000' );

    const defs = this.svg.append( 'defs' );
    defs.append( 'clipPath' ).attr( 'id', 'clip-price' ).append( 'rect' )
      .attr( 'x', f.left ).attr( 'y', this.pricePn.top )
      .attr( 'width', this.axisX - f.left ).attr( 'height', this.pricePn.bottom - this.pricePn.top );
    defs.append( 'clipPath' ).attr( 'id', 'clip-rsi' ).append( 'rect' )
      .attr( 'x', f.left ).attr( 'y', this.rsiPn.top )
      .attr( 'width', this.axisX - f.left ).attr( 'height', this.rsiPn.bottom - this.rsiPn.top );
    return this;
  }

  drawGrid ( ) {
    const f = this.frame, grid = this.svg.append( 'g' ).attr( 'stroke', '#262626' ).attr( 'stroke-width', 1.3 );

    // RSI band background between 30 and 70.
    this.svg.insert( 'rect', 'g' )
      .attr( 'x', f.left ).attr( 'y', this.yR( 70 ) )
      .attr( 'width', this.axisX - f.left ).attr( 'height', this.yR( 30 ) - this.yR( 70 ) )
      .attr( 'fill', 'rgba(126,87,194,0.10)' );

    grid.selectAll( '.vgrid' ).data( this.months ).enter( ).append( 'line' )
      .attr( 'x1', d => this.x( d ) ).attr( 'x2', d => this.x( d ) )
      .attr( 'y1', f.top ).attr( 'y2', this.rsiPn.bottom );
    grid.selectAll( '.pgrid' ).data( priceTicks ).enter( ).append( 'line' )
      .attr( 'x1', f.left ).attr( 'x2', this.axisX )
      .attr( 'y1', d => this.y( d ) ).attr( 'y2', d => this.y( d ) );
    grid.selectAll( '.rgrid' ).data( rsiGrid ).enter( ).append( 'line' )
      .attr( 'x1', f.left ).attr( 'x2', this.axisX )
      .attr( 'y1', d => this.yR( d ) ).attr( 'y2', d => this.yR( d ) );

    this.svg.append( 'g' ).selectAll( 'line' ).data( rsiBands ).enter( ).append( 'line' )
      .attr( 'x1', f.left ).attr( 'x2', this.axisX )
      .attr( 'y1', d => this.yR( d ) ).attr( 'y2', d => this.yR( d ) )
      .attr( 'stroke', '#787b86' ).attr( 'stroke-width', 1.6 )
      .attr( 'stroke-dasharray', '8,7.5' );
    return this;
  }

  drawPrice ( ) {
    const last = priceSeries[ priceSeries.length - 1 ];
    const g    = this.svg.append( 'g' ).attr( 'clip-path', 'url(#clip-price)' );

    // Alert levels.
    g.selectAll( '.alert' ).data( alertLevels ).enter( ).append( 'line' )
      .attr( 'x1', ( d, i ) => this.x( this.day( alertStarts[ i ] ) ) ).attr( 'x2', this.axisX )
      .attr( 'y1', d => this.y( d ) ).attr( 'y2', d => this.y( d ) )
      .attr( 'stroke', '#ff9800' ).attr( 'stroke-width', 3 )
      .attr( 'stroke-dasharray', '17,22' );

    // Last-price dotted line.
    g.append( 'line' )
      .attr( 'x1', this.frame.left ).attr( 'x2', this.axisX )
      .attr( 'y1', this.y( last[ 1 ] ) ).attr( 'y2', this.y( last[ 1 ] ) )
      .attr( 'stroke', '#e6e6e6' ).attr( 'stroke-width', 1.6 )
      .attr( 'stroke-dasharray', '1.6,5.1' );

    const line = d3.line( )
      .x( d => this.x( this.day( d[ 0 ] ) ) )
      .y( d => this.y( d[ 1 ] ) );
    g.append( 'path' ).datum( priceSeries )
      .attr( 'd', line )
      .attr( 'fill', 'none' ).attr( 'stroke', '#ffffff' )
      .attr( 'stroke-width', 2.1 ).attr( 'stroke-linejoin', 'round' );

    g.append( 'circle' )
      .attr( 'cx', this.x( this.day( alertMarker[ 0 ] ) ) ).attr( 'cy', this.y( alertMarker[ 1 ] ) )
      .attr( 'r', 4 ).attr( 'fill', '#f23645' ).attr( 'opacity', 0.85 );
    g.append( 'circle' )
      .attr( 'cx', this.x( this.day( last[ 0 ] ) ) ).attr( 'cy', this.y( last[ 1 ] ) )
      .attr( 'r', 4.5 ).attr( 'fill', '#ffffff' );
    return this;
  }

  drawRsi ( ) {
    const g  = this.svg.append( 'g' ).attr( 'clip-path', 'url(#clip-rsi)' );
    const xd = d => this.x( this.day( d[ 0 ] ) );

    g.append( 'path' ).datum( rsiSeries )
      .attr( 'd', d3.area( ).x( xd ).y0( this.yR( 70 ) ).y1( d => this.yR( Math.max( d[ 1 ], 70 ) ) ) )
      .attr( 'fill', 'rgba(76,175,80,0.16)' );
    g.append( 'path' ).datum( rsiSeries )
      .attr( 'd', d3.area( ).x( xd ).y0( this.yR( 30 ) ).y1( d => this.yR( Math.min( d[ 1 ], 30 ) ) ) )
      .attr( 'fill', 'rgba(242,54,69,0.16)' );

    g.append( 'path' ).datum( rsiSeries )
      .attr( 'd', d3.line( ).x( xd ).y( d => this.yR( d[ 1 ] ) ) )
      .attr( 'fill', 'none' ).attr( 'stroke', '#7e57c2' ).attr( 'stroke-width', 1.9 )
      .attr( 'stroke-linejoin', 'round' );
    g.append( 'path' ).datum( rsiMaSeries )
      .attr( 'd', d3.line( ).x( xd ).y( d => this.yR( d[ 1 ] ) ).curve( d3.curveMonotoneX ) )
      .attr( 'fill', 'none' ).attr( 'stroke', '#fdd835' ).attr( 'stroke-width', 2.2 );
    return this;
  }

  // Borders and pane separators.
  drawFrame ( ) {
    const f = this.frame;
    this.svg.append( 'line' )
      .attr( 'x1', this.axisX ).attr( 'x2', this.axisX ).attr( 'y1', f.top ).attr( 'y2', f.bottom )
      .attr( 'stroke', '#5a5a5a' ).attr( 'stroke-width', 1.6 );
    this.svg.append( 'line' )
      .attr( 'x1', f.left ).attr( 'x2', f.right ).attr( 'y1', 1035.5 ).attr( 'y2', 1035.5 )
      .attr( 'stroke', '#a8a8a8' ).attr( 'stroke-width', 2 );
    this.svg.append( 'line' )
      .attr( 'x1', f.left ).attr( 'x2', f.right ).attr( 'y1', this.rsiPn.bottom ).attr( 'y2', this.rsiPn.bottom )
      .attr( 'stroke', '#7a7a7a' ).attr( 'stroke-width', 2 );
    this.svg.append( 'rect' )
      .attr( 'x', f.left ).attr( 'y', f.top )
      .attr( 'width', f.right - f.left ).attr( 'height', f.bottom - f.top )
      .attr( 'fill', 'none' ).attr( 'stroke', '#9a9a9a' ).attr( 'stroke-width', 1.5 );
    return this;
  }

  drawAxes ( ) {
    // 5.000% sits under the alert tags, as in the reference, so it is skipped here.
    const hidden    = this.y( alertLevels[ 0 ] ) - this.y( 5.0 ) < 20 ? 5.0 : null;
    const priceAxis = d3.axisRight( this.y )
      .tickValues( priceTicks.filter( d => d !== hidden ) ).tickSize( 0 ).tickPadding( 17 )
      .tickFormat( d => d.toFixed( 3 ) + '%' );
    this.svg.append( 'g' )
      .attr( 'transform', `translate( ${this.axisX}, 0 )` )
      .call( priceAxis )
      .attr( 'font-family', this.font ).attr( 'font-size', this.text ).attr( 'color', '#c3c6cd' )
      .call( g => g.select( '.domain' ).remove( ) )
      .selectAll( 'text' ).filter( d => d === 4.0 )
        .attr( 'font-weight', 700 ).attr( 'fill', '#ffffff' );

    const rsiAxis = d3.axisRight( this.yR )
      .tickValues( rsiLabels ).tickSize( 0 ).tickPadding( 17 )
      .tickFormat( d3.format( '.2f' ) );
    this.svg.append( 'g' )
      .attr( 'transform', `translate( ${this.axisX}, 0 )` )
      .call( rsiAxis )
      .attr( 'font-family', this.font ).attr( 'font-size', this.text ).attr( 'color', '#c3c6cd' )
      .call( g => g.select( '.domain' ).remove( ) );

    const timeAxis = d3.axisBottom( this.x )
      .tickValues( this.months ).tickSize( 0 ).tickPadding( 19 )
      .tickFormat( d => d.getMonth( ) === 0 ? d3.timeFormat( '%Y' )( d ) : d3.timeFormat( '%b' )( d ) );
    this.svg.append( 'g' )
      .attr( 'transform', `translate( 0, ${this.rsiPn.bottom} )` )
      .call( timeAxis )
      .attr( 'font-family', this.font ).attr( 'font-size', 20.5 ).attr( 'color', '#c3c6cd' )
      .call( g => g.select( '.domain' ).remove( ) )
      .selectAll( 'text' ).filter( d => d.getMonth( ) === 0 )
        .attr( 'font-weight', 700 ).attr( 'fill', '#e9e9ea' );
    return this;
  }

  // Right-axis tags, legends, percent button and logo.
  drawLabels ( ) {
    const ax   = this.axisX;
    const fs   = this.text;
    const last = priceSeries[ priceSeries.length - 1 ];
    const tag  = ( y, w, h, fill, label, color ) => {
      this.svg.append( 'rect' ).attr( 'x', ax ).attr( 'y', y ).attr( 'width', w ).attr( 'height', h )
        .attr( 'rx', 3 ).attr( 'fill', fill );
      this.svg.append( 'text' ).attr( 'x', ax + 17 ).attr( 'y', y + h / 2 + 7.5 )
        .attr( 'font-size', fs ).attr( 'fill', color ).text( label );
    };

    // Current price with countdown.
    const ly = this.y( last[ 1 ] ) - 15.5;
    this.svg.append( 'rect' ).attr( 'x', ax ).attr( 'y', ly ).attr( 'width', 120 ).attr( 'height', 55 )
      .attr( 'rx', 3 ).attr( 'fill', '#ffffff' );
    this.svg.append( 'text' ).attr( 'x', ax + 17 ).attr( 'y', ly + 23 )
      .attr( 'font-size', fs ).attr( 'fill', '#131722' ).text( last[ 1 ].toFixed( 3 ) + '%' );
    this.svg.append( 'text' ).attr( 'x', ax + 17 ).attr( 'y', ly + 48 )
      .attr( 'font-size', fs ).attr( 'fill', '#6a6d78' ).text( countdown );

    // Top sliver of the 5.000% label peeking out above the alert tags.
    const tagTop = this.y( alertLevels[ 0 ] ) - 14.5;
    this.svg.append( 'clipPath' ).attr( 'id', 'clip-sliver' ).append( 'rect' )
      .attr( 'x', ax ).attr( 'y', ly + 56 ).attr( 'width', 129 ).attr( 'height', tagTop - ly - 56 );
    this.svg.append( 'text' ).attr( 'clip-path', 'url(#clip-sliver)' )
      .attr( 'x', ax + 17 ).attr( 'y', this.y( 5.0 ) + 7.5 )
      .attr( 'font-size', fs ).attr( 'fill', '#c3c6cd' ).text( '5.000%' );

    // Alert level tags, stacked so they do not overlap.
    let bottom = -Infinity;
    alertLevels.forEach( v => {
      const top = Math.max( this.y( v ) - 14.5, bottom + 2 );
      tag( top, 105, 29, '#ff9800', v.toFixed( 3 ) + '%', '#131722' );
      bottom = top + 29;
    } );

    // RSI value tags.
    const rsiLast = rsiSeries[ rsiSeries.length - 1 ][ 1 ];
    const maLast  = rsiMaSeries[ rsiMaSeries.length - 1 ][ 1 ];
    const rTop    = this.yR( rsiLast ) - 14.5;
    tag( rTop, 81, 29, '#7e57c2', rsiLast.toFixed( 2 ), '#ffffff' );
    tag( Math.max( this.yR( maLast ) - 15, rTop + 29 ), 81, 31, '#fdd835', maLast.toFixed( 2 ), '#131722' );

    // Percent button.
    this.svg.append( 'rect' ).attr( 'x', 2419 ).attr( 'y', 55 ).attr( 'width', 116 ).attr( 'height', 47 )
      .attr( 'rx', 7 ).attr( 'fill', '#131313' ).attr( 'stroke', '#2c2c2c' ).attr( 'stroke-width', 1.5 );
    this.svg.append( 'text' ).attr( 'x', 2437 ).attr( 'y', 86 )
      .attr( 'font-size', fs ).attr( 'fill', '#e9e9ea' ).text( '%' );

    // Legends.
    const title = this.svg.append( 'text' ).attr( 'y', 84 ).attr( 'font-size', fs ).attr( 'fill', '#e3e5ea' );
    title.append( 'tspan' ).attr( 'x', 33 ).text( 'United States 30 Year Government Bonds Yield · 1D · TVC' );
    title.append( 'tspan' ).attr( 'x', 630 ).text( last[ 1 ].toFixed( 3 ) + '%' );
    title.append( 'tspan' ).attr( 'x', 712 ).text( lastChange );

    const rsiLegend = this.svg.append( 'text' ).attr( 'y', 1073 ).attr( 'font-size', fs );
    rsiLegend.append( 'tspan' ).attr( 'x', 33 ).attr( 'fill', '#d9dbe0' ).text( 'RSI (14, close)' );
    rsiLegend.append( 'tspan' ).attr( 'x', 191 ).attr( 'fill', '#8c6bd1' ).text( rsiLast.toFixed( 2 ) );
    rsiLegend.append( 'tspan' ).attr( 'x', 262 ).attr( 'fill', '#fdd835' ).text( maLast.toFixed( 2 ) );

    // TradingView wordmark.
    const logo = this.svg.append( 'g' ).attr( 'fill', '#131722' );
    logo.append( 'path' ).attr( 'd', 'M22 1478 H45 V1505 H35 V1487 H22 Z' );
    logo.append( 'circle' ).attr( 'cx', 53 ).attr( 'cy', 1482.5 ).attr( 'r', 4.5 );
    logo.append( 'path' ).attr( 'd', 'M63 1478 H76 L65 1505 H52 Z' );
    logo.append( 'text' ).attr( 'x', 87 ).attr( 'y', 1505 )
      .attr( 'font-size', 36 ).attr( 'font-weight', 700 ).attr( 'letter-spacing', -0.5 )
      .attr( 'textLength', 217 ).attr( 'lengthAdjust', 'spacingAndGlyphs' )
      .text( 'TradingView' );
    return this;
  }
}

new YieldChart( )
  .setScales( ).makeCanvas( ).drawGrid( ).drawPrice( ).drawRsi( )
  .drawFrame( ).drawAxes( ).and.drawLabels( );

</script>
</body>
</html>
